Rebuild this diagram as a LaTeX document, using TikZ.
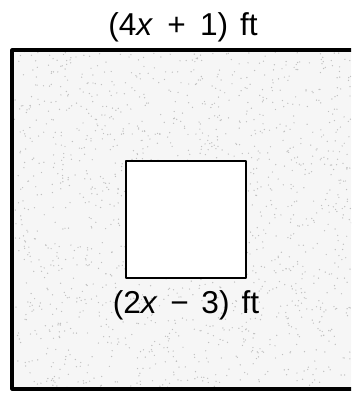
\documentclass[tikz,border=0pt]{standalone}
\usepackage{fontspec}
\setmainfont{Liberation Sans}
\usetikzlibrary{positioning}

\tikzset{
  dimlabel/.style={font=\fontsize{27}{32}\selectfont, inner sep=0pt},
  plotline/.style={line width=2.6pt, black},
  holeline/.style={line width=2.1pt, black}
}

\begin{document}
\begin{tikzpicture}[line cap=round,line join=round,x=0.03cm,y=-0.03cm]
    \useasboundingbox (0,0) rectangle (351,393);
    \clip (0,0) rectangle (351,393);

    % the plot, with its speckled ground
    \fill[gray!7] (12,50) rectangle (360,389);
    \pgfmathsetseed{11}
    \foreach \i in {1,...,1600}{
        \pgfmathsetmacro{\px}{186+172*rand}
        \pgfmathsetmacro{\py}{220+169*rand}
        \fill[gray!50] (\px,\py) circle (0.7);
    }
    \draw[plotline] (12,50) rectangle (360,389);

    % the square hole
    \filldraw[holeline, fill=white] (126,161) rectangle (246,278);

    \node[dimlabel] (widthlabel) at (183,27) {(4\textit{x}\hspace{0.45em}+\hspace{0.45em}1)\hspace{0.1em} ft};
    \node[dimlabel] (innerlabel) at (186,305) {(2\textit{x}\hspace{0.4em}−\hspace{0.4em}3)\hspace{0.1em} ft};
\end{tikzpicture}
\end{document}
